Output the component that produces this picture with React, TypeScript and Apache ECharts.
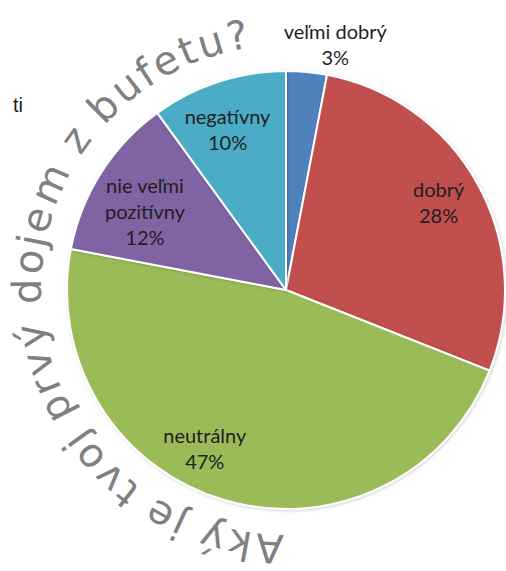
import React, { useEffect, useRef } from "react";
import * as echarts from "echarts";

// ---- data ----
const categories = ["veľmi dobrý", "dobrý", "neutrálny", "nie veľmi\npozitívny", "negatívny"];
const shares = [3, 28, 47, 12, 10];
const sliceColors = ["#4F81BD", "#C0504D", "#9BBB59", "#8064A2", "#4BACC6"];
const curvedTitle = "Aký je tvoj prvý dojem z bufetu?";
const strayText = "ti";

// ---- layout tweaks for labels (pixels), not data ----
const labelNudges: [number, number][] = [
  [33, -74],
  [1, -5],
  [-33, -8],
  [5, 14],
  [-5, 4],
];

export default function App() {
  const ref = useRef<HTMLDivElement>(null);

  useEffect(() => {
    document.body.style.margin = "0";
    const el = ref.current!;
    const chart = echarts.init(el, null, { renderer: "svg" });

    const cx = 286;
    const cy = 290;
    const R = 219;

    // curved title along a circle
    const fontSize = 40;
    const fontFamily = "'DejaVu Sans', sans-serif";
    const canvas = document.createElement("canvas");
    const ctx = canvas.getContext("2d")!;
    ctx.font = `${fontSize}px ${fontFamily}`;
    const chars = Array.from(curvedTitle);
    const widths = chars.map((c) => ctx.measureText(c).width);
    const total = widths.reduce((a, b) => a + b, 0);
    const a0 = (90 * Math.PI) / 180;
    const a1 = (262 * Math.PI) / 180;
    const rText = 259;
    let acc = 0;
    const letters = chars.map((c, i) => {
      const s = acc + widths[i] / 2;
      acc += widths[i];
      const th = a0 + (s / total) * (a1 - a0);
      return {
        type: "text",
        x: cx + rText * Math.cos(th),
        y: cy + rText * Math.sin(th),
        rotation: -(th + Math.PI / 2),
        silent: true,
        z: 10,
        style: {
          text: c,
          fill: "#808080",
          fontSize,
          fontFamily,
          align: "center",
          verticalAlign: "middle",
          textAlign: "center",
          textVerticalAlign: "middle",
        },
      };
    });

    const pieData = categories.map((name, i) => ({
      name,
      value: shares[i],
      itemStyle: { color: sliceColors[i] },
    }));

    const labelData = categories.map((name, i) => ({
      name,
      value: shares[i],
      label: { offset: labelNudges[i] },
    }));

    chart.setOption({
      animation: false,
      backgroundColor: "#ffffff",
      graphic: [
        {
          type: "text",
          left: 13,
          top: 95,
          silent: true,
          style: {
            text: strayText,
            fill: "#1a1a1a",
            fontSize: 20,
            fontFamily: "'Liberation Sans', Arial, sans-serif",
          },
        },
        ...letters,
      ],
      series: [
        {
          type: "pie",
          center: [cx, cy],
          radius: [0, R],
          startAngle: 90,
          clockwise: true,
          silent: true,
          label: { show: false },
          labelLine: { show: false },
          itemStyle: {
            borderColor: "#ffffff",
            borderWidth: 2,
            shadowColor: "rgba(0,0,0,0.18)",
            shadowBlur: 3,
            shadowOffsetX: 1,
            shadowOffsetY: 1,
          },
          data: pieData,
        },
        {
          type: "pie",
          center: [cx, cy],
          radius: [121, R],
          startAngle: 90,
          clockwise: true,
          silent: true,
          itemStyle: { color: "rgba(0,0,0,0)", borderWidth: 0 },
          labelLine: { show: false },
          label: {
            show: true,
            position: "inside",
            formatter: "{b}\n{c}%",
            color: "#1f1f1f",
            fontFamily: "Lato, 'Open Sans', sans-serif",
            fontSize: 20,
            lineHeight: 26,
            align: "center",
          },
          data: labelData,
        },
      ],
    });

    return () => chart.dispose();
  }, []);

  return <div ref={ref} style={{ width: 506, height: 571 }} />;
}
